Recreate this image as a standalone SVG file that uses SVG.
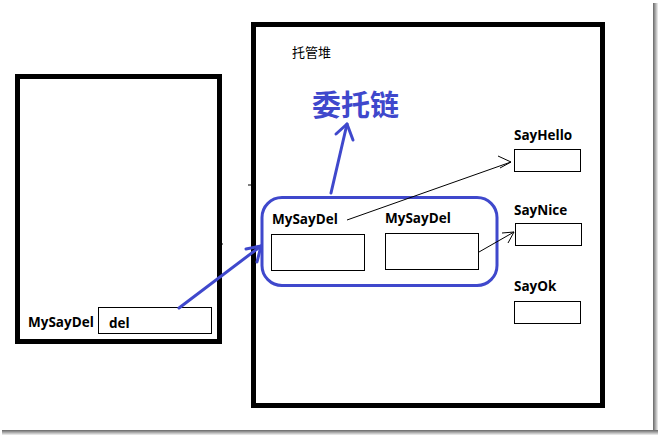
<svg xmlns="http://www.w3.org/2000/svg" width="658" height="435" viewBox="0 0 658 435">
<defs>
<style>
.frame{fill:none;stroke:#000;stroke-width:5}
.box{fill:#fff;stroke:#000;stroke-width:1}
.lbl{font-family:"Segoe UI","Open Sans","Liberation Sans",sans-serif;font-weight:bold;font-size:13.5px;fill:#000}
.blue{stroke:#3f48cc;stroke-width:3;fill:none;stroke-linecap:round;stroke-linejoin:round}
.thin{stroke:#000;stroke-width:1;fill:none}
</style>
<linearGradient id="sr" x1="0" x2="1" y1="0" y2="0"><stop offset="0" stop-color="#666"/><stop offset="1" stop-color="#f2f2f2"/></linearGradient>
<linearGradient id="sb" x1="0" x2="0" y1="0" y2="1"><stop offset="0" stop-color="#666"/><stop offset="1" stop-color="#f2f2f2"/></linearGradient>
</defs>
<rect width="658" height="435" fill="#fff"/>
<rect x="653" y="3" width="5" height="432" fill="url(#sr)"/>
<rect x="2" y="430" width="656" height="5" fill="url(#sb)"/>

<g id="stack">
<rect class="frame" x="17.5" y="76.5" width="202" height="265"/>
<text class="lbl" x="28" y="327">MySayDel</text>
<rect class="box" x="98.5" y="307.5" width="113" height="26"/>
<text class="lbl" x="109" y="328">del</text>
<line class="thin" x1="220" y1="244" x2="223" y2="244"/>
<line class="thin" x1="217" y1="255" x2="219" y2="255"/>
</g>

<g id="heap">
<rect class="frame" x="253.5" y="24.5" width="349" height="381"/>
<text x="292" y="57" font-family="'Noto Sans CJK SC',sans-serif" font-size="13" fill="#000">托管堆</text>
<line class="thin" x1="248" y1="185" x2="251" y2="185"/>
</g>

<g id="chain-label">
<text x="312" y="116" font-family="'Noto Sans CJK SC',sans-serif" font-weight="bold" font-size="29" fill="#3f48cc">委托链</text>
</g>

<g id="chain">
<rect class="blue" x="262" y="197.5" width="235" height="88" rx="20"/>
<text class="lbl" x="272" y="224">MySayDel</text>
<rect class="box" x="271.5" y="234.5" width="93" height="36"/>
<text class="lbl" x="385" y="223">MySayDel</text>
<rect class="box" x="385.5" y="233.5" width="93" height="36"/>
</g>

<g id="sayhello">
<text class="lbl" x="514" y="140">SayHello</text>
<rect class="box" x="514.5" y="149.5" width="66" height="22"/>
</g>
<g id="saynice">
<text class="lbl" x="514" y="215">SayNice</text>
<rect class="box" x="515.5" y="223.5" width="66" height="22"/>
</g>
<g id="sayok">
<text class="lbl" x="514" y="291">SayOk</text>
<rect class="box" x="514.5" y="301.5" width="66" height="22"/>
</g>

<g id="connectors">
<polyline class="blue" points="179,308 261,246"/>
<polyline class="blue" points="246,249 261,246 257,262"/>
<polyline class="blue" points="331,193 347,124"/>
<polyline class="blue" points="336,134 347,124 353,140"/>
<polyline class="thin" points="347,220 511,162"/>
<polyline class="thin" points="498,156 511,162 500,168"/>
<polyline class="thin" points="479,252 514,232"/>
<polyline class="thin" points="502,233 514,232 508,243"/>
</g>
</svg>
